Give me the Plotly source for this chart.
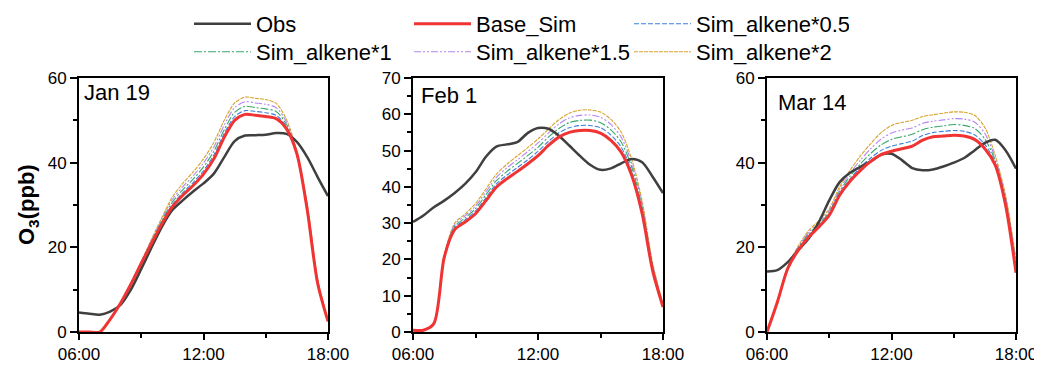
import plotly.graph_objects as go

# ---------------- data ----------------
hours = [6, 6.5, 7, 7.5, 8, 8.5, 9, 9.5, 10, 10.5, 11, 11.5, 12, 12.5,
         13, 13.5, 14, 14.5, 15, 15.5, 16, 16.5, 17, 17.5, 18]
panel_labels = ["Jan 19", "Feb 1", "Mar 14"]
series_names = ["Obs", "Base_Sim", "Sim_alkene*0.5", "Sim_alkene*1",
                "Sim_alkene*1.5", "Sim_alkene*2"]
x_tickvals = [6, 12, 18]
x_ticktext = ["06:00", "12:00", "18:00"]

# Jan 19
obs_jan = [4.6, 4.3, 4.1, 4.8, 6.4, 10.0, 14.9, 20.0, 24.9, 28.8, 31.1, 33.2, 35.1, 37.4,
           41.3, 45.1, 46.4, 46.5, 46.6, 47.0, 46.8, 44.9, 41.3, 36.6, 32.1]
base_jan = [0, 0, 0, 3.0, 6.8, 11.3, 16.2, 21.0, 25.6, 29.6, 32.3, 34.6, 37.3, 40.9,
            46.0, 50.0, 51.4, 51.2, 50.9, 50.4, 48.0, 42.1, 28.8, 11.5, 2.5]
alk05_jan = [0, 0, 0, 3.0, 6.8, 11.4, 16.3, 21.2, 25.9, 30.1, 32.9, 35.3, 38.1, 41.8,
             46.9, 50.9, 52.3, 52.1, 51.8, 51.2, 48.5, 42.2, 29.1, 11.7, 2.6]
alk1_jan = [0, 0, 0, 3.0, 6.9, 11.4, 16.4, 21.5, 26.3, 30.7, 33.6, 36.1, 39.0, 42.7,
            47.8, 51.9, 53.3, 53.0, 52.7, 52.1, 49.0, 42.3, 29.5, 12.0, 2.6]
alk15_jan = [0, 0, 0, 3.0, 6.9, 11.5, 16.6, 21.7, 26.7, 31.3, 34.3, 36.9, 39.9, 43.7,
             48.9, 53.0, 54.4, 54.1, 53.8, 53.0, 49.6, 42.5, 29.9, 12.2, 2.7]
alk2_jan = [0, 0, 0, 3.0, 7.0, 11.6, 16.7, 22.0, 27.1, 31.9, 35.1, 37.8, 40.9, 44.8,
            50.0, 54.1, 55.5, 55.2, 54.9, 54.0, 50.2, 42.6, 30.3, 12.5, 2.8]

# Feb 1
obs_feb = [30.3, 32.1, 34.4, 36.2, 38.3, 40.8, 44.0, 48.3, 51.1, 51.7, 52.3, 54.8, 56.2, 56.0,
           54.1, 51.4, 48.6, 46.1, 44.7, 45.1, 46.5, 47.7, 46.8, 42.8, 38.3]
base_feb = [0.5, 0.5, 2.3, 20.6, 28.2, 30.3, 32.6, 36.2, 39.9, 42.2, 44.2, 46.3, 48.6, 51.4,
            53.7, 55.0, 55.5, 55.5, 54.8, 52.8, 49.5, 43.1, 32.6, 17.0, 6.9]
alk05_feb = [0.5, 0.5, 2.3, 20.7, 28.7, 30.9, 33.3, 37.0, 40.8, 43.2, 45.3, 47.4, 49.8, 52.5,
             54.9, 56.3, 56.9, 56.9, 56.3, 54.3, 50.9, 44.2, 33.5, 17.5, 7.1]
alk1_feb = [0.5, 0.5, 2.3, 20.9, 29.1, 31.4, 34.0, 37.8, 41.7, 44.2, 46.4, 48.6, 50.9, 53.7,
            56.1, 57.7, 58.3, 58.4, 57.7, 55.7, 52.3, 45.4, 34.4, 18.0, 7.4]
alk15_feb = [0.5, 0.5, 2.3, 21.0, 29.6, 32.0, 34.7, 38.6, 42.6, 45.2, 47.4, 49.7, 52.1, 54.8,
             57.3, 59.0, 59.7, 59.8, 59.2, 57.2, 53.6, 46.5, 35.2, 18.5, 7.6]
alk2_feb = [0.5, 0.5, 2.3, 21.1, 30.0, 32.5, 35.4, 39.4, 43.5, 46.2, 48.5, 50.8, 53.2, 55.9,
            58.5, 60.3, 61.1, 61.2, 60.6, 58.6, 55.0, 47.6, 36.1, 19.0, 7.8]

# Mar 14
obs_mar = [14.3, 14.6, 16.5, 19.3, 22.0, 26.0, 31.1, 35.4, 37.6, 39.0, 40.3, 41.9, 42.1, 40.6,
           38.7, 38.2, 38.4, 39.1, 40.0, 41.1, 42.9, 44.7, 45.4, 42.9, 38.6]
base_mar = [0, 7.1, 15.0, 19.3, 22.4, 24.8, 27.6, 32.3, 35.6, 38.2, 40.3, 41.9, 42.7, 43.3,
            43.9, 45.3, 46.1, 46.3, 46.5, 46.3, 45.5, 43.3, 39.4, 29.9, 14.0]
alk05_mar = [0, 7.2, 15.1, 19.5, 22.7, 25.1, 27.9, 32.7, 36.1, 38.9, 41.1, 42.9, 43.9, 44.5,
             45.1, 46.4, 47.1, 47.4, 47.6, 47.4, 46.6, 44.3, 39.9, 30.4, 14.6]
alk1_mar = [0, 7.2, 15.2, 19.8, 23.1, 25.5, 28.3, 33.2, 36.8, 39.7, 42.2, 44.2, 45.5, 46.1,
            46.7, 47.8, 48.4, 48.7, 49.0, 48.8, 48.1, 45.6, 40.4, 31.0, 15.4]
alk15_mar = [0, 7.3, 15.4, 20.0, 23.5, 25.9, 28.7, 33.7, 37.5, 40.6, 43.3, 45.6, 47.0, 47.7,
             48.2, 49.3, 49.8, 50.1, 50.4, 50.3, 49.6, 46.9, 41.0, 31.6, 16.3]
alk2_mar = [0, 7.4, 15.5, 20.3, 23.9, 26.3, 29.1, 34.3, 38.2, 41.6, 44.5, 47.1, 48.8, 49.5,
            50.0, 50.9, 51.3, 51.7, 52.0, 51.9, 51.2, 48.3, 41.7, 32.3, 17.2]

panels = [
    [obs_jan, base_jan, alk05_jan, alk1_jan, alk15_jan, alk2_jan],
    [obs_feb, base_feb, alk05_feb, alk1_feb, alk15_feb, alk2_feb],
    [obs_mar, base_mar, alk05_mar, alk1_mar, alk15_mar, alk2_mar],
]
y_ranges = [[0, 60], [0, 70], [0, 60]]
y_dticks = [20, 10, 20]

# ---------------- layout geometry (page pixels) ----------------
PAGE_W, PAGE_H = 1042, 366
OFF = 8                      # default page body margin
W, H = PAGE_W - OFF, PAGE_H - OFF


def fx(px):
    return (px - OFF) / W


def fy(py):
    return (H - (py - OFF)) / H


styles = [
    dict(color="#3f3f3f", width=2.5, dash="solid"),
    dict(color="#f03434", width=3, dash="solid"),
    dict(color="#3d7fe0", width=1.1, dash="5px,2px"),
    dict(color="#39a86a", width=1.1, dash="8px,2px,2px,2px"),
    dict(color="#b487f0", width=1.1, dash="7px,2px,2px,2px,2px,2px"),
    dict(color="#d8a42c", width=1.1, dash="4px,1px"),
]
legend_of = ["legend", "legend", "legend", "legend2", "legend2", "legend2"]
x_boxes = [(79, 328), (413, 663), (767, 1016)]
y_top, y_bot = 78, 332
label_pos = [(82, 93), (419, 96), (776, 102)]

fig = go.Figure()
font = "Arial, Liberation Sans, sans-serif"
draw_order = [5, 4, 3, 2, 0, 1]
for p, data in enumerate(panels):
    xa = "x" if p == 0 else f"x{p + 1}"
    ya = "y" if p == 0 else f"y{p + 1}"
    for i in draw_order:
        fig.add_trace(go.Scatter(
            x=hours, y=data[i], mode="lines", name=series_names[i],
            line=dict(color=styles[i]["color"], width=styles[i]["width"],
                      dash=styles[i]["dash"], shape="spline", smoothing=0.8),
            xaxis=xa, yaxis=ya, showlegend=(p == 0), legendrank=i,
            legend=legend_of[i],
        ))

axis_common = dict(showline=True, linecolor="black", linewidth=2, mirror=True,
                   ticks="outside", tickcolor="black", tickwidth=1.5,
                   showgrid=False, zeroline=False, automargin=False,
                   tickfont=dict(family=font, size=17, color="black"))
layout_axes = {}
for p in range(3):
    sx = "xaxis" if p == 0 else f"xaxis{p + 1}"
    sy = "yaxis" if p == 0 else f"yaxis{p + 1}"
    l, r = x_boxes[p]
    layout_axes[sx] = dict(axis_common, domain=[fx(l), fx(r)], range=[6, 18],
                           tickvals=x_tickvals, ticktext=x_ticktext, ticklen=6,
                           minor=dict(tickvals=[9, 15], ticks="outside", ticklen=4,
                                      tickcolor="black", tickwidth=1.5),
                           anchor="y" if p == 0 else f"y{p + 1}")
    layout_axes[sy] = dict(axis_common, domain=[fy(y_bot), fy(y_top)],
                           range=y_ranges[p], dtick=y_dticks[p], tick0=0, ticklen=7,
                           minor=dict(dtick=y_dticks[p] / 2, ticks="outside", ticklen=4,
                                      tickcolor="black", tickwidth=1.5),
                           anchor="x" if p == 0 else f"x{p + 1}")

annotations = []
for p in range(3):
    l, r = x_boxes[p]
    lx, ly = label_pos[p]
    annotations.append(dict(
        text=panel_labels[p], xref=("x" if p == 0 else f"x{p + 1}") + " domain",
        yref=("y" if p == 0 else f"y{p + 1}") + " domain",
        x=(lx - l) / (r - l), y=(y_bot - ly) / (y_bot - y_top),
        xanchor="left", yanchor="middle", showarrow=False,
        font=dict(family=font, size=22, color="black")))
annotations.append(dict(
    text="<b>O<sub>3</sub>(ppb)</b>", xref="paper", yref="paper",
    x=fx(28), y=fy(205), textangle=-90, showarrow=False,
    xanchor="center", yanchor="middle",
    font=dict(family=font, size=22, color="black")))

legend_common = dict(orientation="h", xanchor="left", yanchor="middle",
                     entrywidth=148, entrywidthmode="pixels", itemwidth=57,
                     traceorder="normal", bgcolor="rgba(0,0,0,0)",
                     font=dict(family=font, size=22, color="black"),
                     tracegroupgap=0)
fig.update_layout(
    width=W, height=H, margin=dict(l=0, r=0, t=0, b=0, autoexpand=False),
    paper_bgcolor="white", plot_bgcolor="white",
    showlegend=True,
    legend=dict(legend_common, x=fx(189), y=fy(24)),
    legend2=dict(legend_common, x=fx(189), y=fy(52)),
    annotations=annotations,
    **layout_axes,
)

fig.write_html("out.html")
